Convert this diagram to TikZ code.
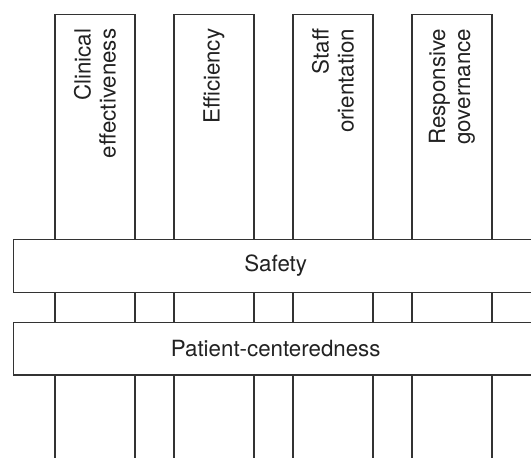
\documentclass[tikz,border=0pt]{standalone}
\usepackage{fontspec}
\setmainfont{TeX Gyre Heros}
\usepackage{xcolor}
\usepackage{tikz}
\usetikzlibrary{positioning}
\definecolor{linegray}{HTML}{333333}
\definecolor{textgray}{HTML}{222222}

\begin{document}
\begin{tikzpicture}[
	pillar/.style={draw=linegray, line width=0.8pt, rotate=90, anchor=east,
		minimum width=8.96cm, minimum height=1.6cm, inner xsep=0.28cm,
		text width=8.4cm, align=right, text=textgray,
		font=\fontsize{12.7}{14.2}\selectfont},
	band/.style={draw=linegray, line width=0.8pt, fill=white,
		minimum width=10.48cm, minimum height=1.05cm, text=textgray,
		font=\fontsize{12.7}{14.2}\selectfont}]
		\useasboundingbox (0,0) rectangle (10.62,-9.14);
		\node[pillar] (clin) at (1.9,-0.28) {Clinical\\effectiveness};
		\node[pillar] (effic) at (4.28,-0.28) {Efficiency};
		\node[pillar] (staff) at (6.66,-0.28) {Staff\\orientation};
		\node[pillar] (gov) at (9.04,-0.28) {Responsive\\governance};
		
		\node[band, anchor=north west] (safety) at (0.26,-4.78) {Safety};
		\node[band, below=0.58cm of safety] (patient) {Patient-centeredness};
	\end{tikzpicture}
\end{document}
